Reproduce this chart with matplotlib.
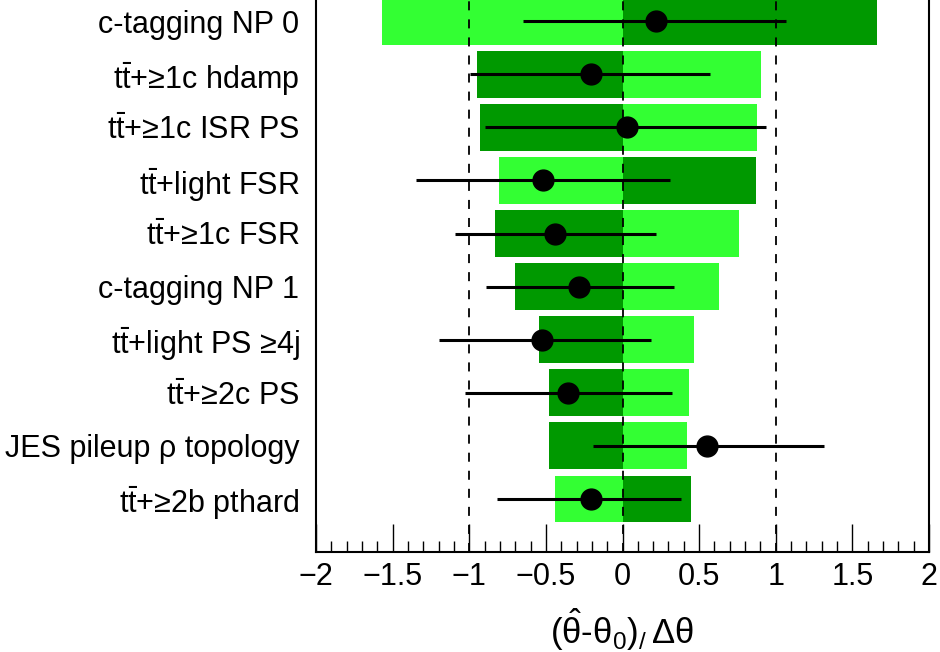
import matplotlib
matplotlib.use("Agg")
import matplotlib.pyplot as plt
from matplotlib.ticker import MultipleLocator
import numpy as np

plt.rcParams['font.family'] = ['Liberation Sans', 'DejaVu Sans']
plt.rcParams['mathtext.fontset'] = 'custom'
plt.rcParams['mathtext.rm'] = 'Liberation Sans'
plt.rcParams['mathtext.it'] = 'Liberation Sans'
plt.rcParams['mathtext.bf'] = 'Liberation Sans'
plt.rcParams['mathtext.default'] = 'regular'

TT = r"$\mathregular{t\bar{t}}$"
labels = [
    "c-tagging NP 0",
    TT + "+≥1c hdamp",
    TT + "+≥1c ISR PS",
    TT + "+light FSR",
    TT + "+≥1c FSR",
    "c-tagging NP 1",
    TT + "+light PS ≥4j",
    TT + "+≥2c PS",
    "JES pileup ρ topology",
    TT + "+≥2b pthard",
]
# impact bars (in axis units): +1 sigma (dark) and -1 sigma (light) variations
impact_up = [1.663, -0.947, -0.928, 0.870, -0.830, -0.700, -0.544, -0.479, -0.479, 0.444]
impact_dn = [-1.570, 0.902, 0.876, -0.807, 0.760, 0.628, 0.469, 0.432, 0.423, -0.442]
# pulls
pull = [0.216, -0.203, 0.030, -0.518, -0.442, -0.281, -0.528, -0.353, 0.549, -0.203]
err_lo = [0.864, 0.792, 0.925, 0.828, 0.653, 0.607, 0.667, 0.672, 0.740, 0.613]
err_hi = [0.854, 0.773, 0.907, 0.825, 0.658, 0.620, 0.712, 0.676, 0.765, 0.582]

fig = plt.figure(figsize=(9.4, 6.52), dpi=100)
ax = fig.add_axes([316/940, 1-552/652, (929-316)/940, 552/652])

n = len(labels)
ypos = np.arange(n, 0, -1)
h = 0.88
ax.barh(ypos, impact_up, height=h, color='#009900', zorder=1)
ax.barh(ypos, impact_dn, height=h, color='#33ff33', zorder=1)
for xv in (-1, 0, 1):
    ax.axvline(xv, color='black', ls=(0, (5, 5)), lw=1.3, zorder=2)
ax.errorbar(pull, ypos, xerr=[err_lo, err_hi], fmt='o', color='black',
            ms=15, elinewidth=2.2, capsize=0, zorder=3)

ax.set_xlim(-2, 2)
ax.set_ylim(0, 10.4)
ax.set_yticks(ypos)
ax.set_yticklabels(labels, fontsize=22)
ax.tick_params(axis='y', length=0, pad=12)
ax.xaxis.set_major_locator(MultipleLocator(0.5))
ax.xaxis.set_minor_locator(MultipleLocator(0.1))
ax.tick_params(axis='x', which='major', direction='in', length=20, width=1, labelsize=22, pad=7)
ax.tick_params(axis='x', which='minor', direction='in', length=8, width=1)
ax.xaxis.set_major_formatter(matplotlib.ticker.FuncFormatter(
    lambda v, p: ("−" if v < 0 else "") + ("%g" % abs(v))))
ax.spines['top'].set_visible(False)
for s in ('left', 'right', 'bottom'):
    ax.spines[s].set_linewidth(1.5)

fig.text(622/940, 1-630/652, r"$(\hat{\theta}$-$\theta_{0})$" + r"$_{/}\,\Delta\theta$",
         ha='center', va='center', fontsize=25)

fig.savefig("out.png", dpi=100)
